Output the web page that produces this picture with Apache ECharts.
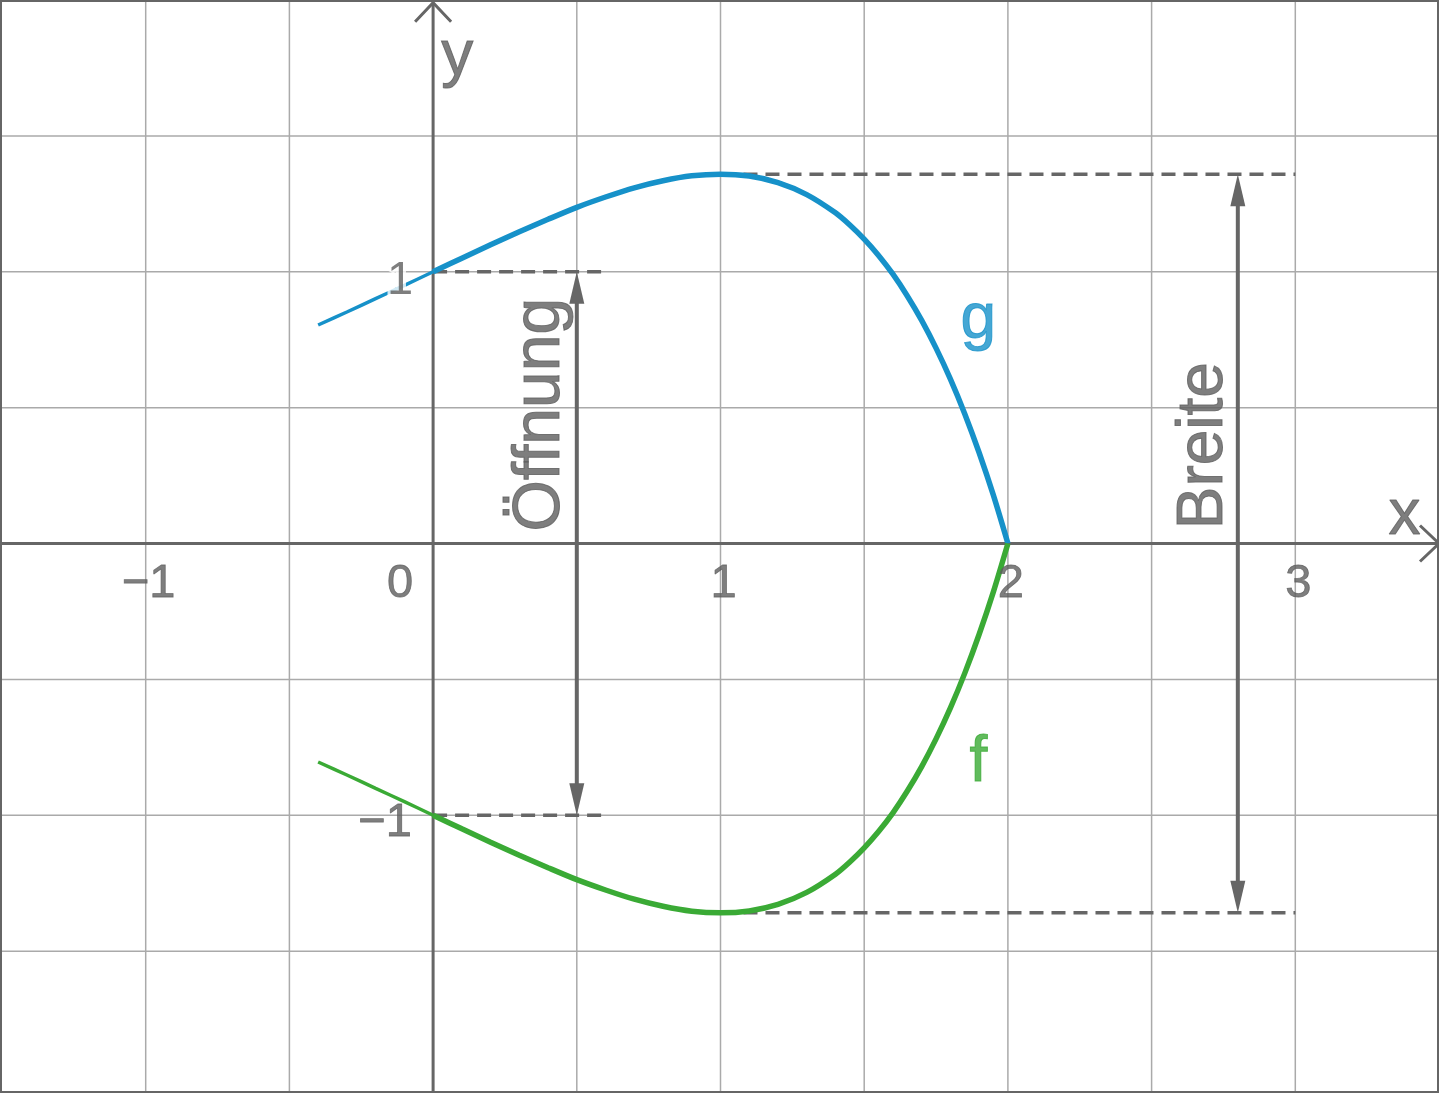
<!DOCTYPE html>
<html><head><meta charset="utf-8">
<script src="https://cdn.jsdelivr.net/npm/echarts@6/dist/echarts.min.js"></script>
<style>html,body{margin:0;padding:0;background:#fff}#c{width:1439px;height:1093px}</style>
</head><body><div id="c"></div>
<script>
// ---- data ----
const leftX   = [-0.4, -0.3, -0.2, -0.1, 0];
const gLeftY  = [0.804, 0.852, 0.901, 0.950, 1.000];
const fLeftY  = [-0.804, -0.852, -0.901, -0.950, -1.000];
const mainX   = [0, 0.1, 0.2, 0.3, 0.4, 0.5, 0.6, 0.7, 0.8, 0.9, 1.0, 1.1, 1.2, 1.3, 1.4, 1.45, 1.5, 1.55, 1.6, 1.65, 1.7, 1.75, 1.8, 1.85, 1.9, 1.95, 2.0];
const gMainY  = [1.000, 1.050, 1.099, 1.147, 1.193, 1.237, 1.275, 1.309, 1.335, 1.353, 1.359, 1.352, 1.328, 1.284, 1.217, 1.172, 1.120, 1.060, 0.991, 0.911, 0.821, 0.719, 0.605, 0.477, 0.334, 0.176, 0];
const fMainY  = [-1.000, -1.050, -1.099, -1.147, -1.193, -1.237, -1.275, -1.309, -1.335, -1.353, -1.359, -1.352, -1.328, -1.284, -1.217, -1.172, -1.120, -1.060, -0.991, -0.911, -0.821, -0.719, -0.605, -0.477, -0.334, -0.176, 0];
const xTicks     = [-1, 0, 1, 2, 3];
const xTickText  = ['−1', '0', '1', '2', '3'];
const yTickUpper = [1];
const yTickLower = [-1];
const xGridLines = [-1, -0.5, 0.5, 1, 1.5, 2, 2.5, 3];
const yGridLines = [-1.5, -1, -0.5, 0.5, 1, 1.5];
const dashOpenTop = [[0, 1], [0.6, 1]];
const dashOpenBot = [[0, -1], [0.6, -1]];
const dashWideTop = [[1.08, 1.359], [3.0, 1.359]];
const dashWideBot = [[1.08, -1.359], [3.0, -1.359]];
const arrowOpening = [0.5, 1, -1];        // x, y from, y to
const arrowWidth   = [2.8, 1.359, -1.359];
const xAxisLine = [[-1.5, 0], [3.5, 0]];
const yAxisLine = [[0, -2.05], [0, 1.99]];
const textOpening = ['Öffnung', 0.376, 0.474];
const textWidth   = ['Breite', 2.683, 0.36];
const textG = ['g', 1.897, 0.82];
const textF = ['f', 1.897, -0.81];
const textX = ['x', 3.38, 0.10];
const textY = ['y', 0.084, 1.79];

// ---- styles ----
const GRAY = '#666666';
const TXT = '#5e5e5e';
const BLUE = '#1691c9';
const GREEN = '#3aaa35';
const FONT = 'Liberation Sans, Arial, sans-serif';

const pairs = (xs, ys) => xs.map((x, i) => [x, ys[i]]);

function lineSeries(data, color, width, z, dashed) {
  return {
    type: 'line', data: data, showSymbol: false, symbol: 'none', smooth: 0.3,
    lineStyle: { color: color, width: width, type: dashed ? [14, 8] : 'solid', cap: 'butt' },
    z: z, silent: true, animation: false, clip: false
  };
}
function straight(data, color, width, z, dashed) {
  const s = lineSeries(data, color, width, z, dashed);
  s.smooth = false;
  return s;
}

const hGridSeries = {
  type: 'custom', z: 1, silent: true, animation: false, clip: false,
  data: yGridLines.map(v => [v]),
  renderItem: function (params, api) {
    const y = api.coord([0, api.value(0)])[1];
    const cs = params.coordSys;
    return { type: 'line', shape: { x1: cs.x, y1: y, x2: cs.x + cs.width, y2: y },
      style: { stroke: '#aaaaaa', lineWidth: 1.5 } };
  }
};
const vGridSeries = {
  type: 'custom', z: 1, silent: true, animation: false, clip: false,
  data: xGridLines.map(v => [v]),
  renderItem: function (params, api) {
    const x = api.coord([api.value(0), 0])[0];
    return { type: 'line', shape: { x1: x, y1: 0, x2: x, y2: 1093 },
      style: { stroke: '#aaaaaa', lineWidth: 1.5 } };
  }
};

function doubleArrow(spec) {
  return {
    type: 'custom', z: 6, silent: true, animation: false, clip: false,
    data: [spec],
    renderItem: function (params, api) {
      const p1 = api.coord([api.value(0), api.value(1)]);
      const p2 = api.coord([api.value(0), api.value(2)]);
      const L = 32, W = 7.5;
      const x = p1[0];
      return {
        type: 'group', children: [
          { type: 'line', shape: { x1: x, y1: p1[1] + L - 2, x2: x, y2: p2[1] - L + 2 },
            style: { stroke: GRAY, lineWidth: 4 } },
          { type: 'polygon', shape: { points: [[x, p1[1]], [x - W, p1[1] + L], [x + W, p1[1] + L]] },
            style: { fill: GRAY } },
          { type: 'polygon', shape: { points: [[x, p2[1]], [x - W, p2[1] - L], [x + W, p2[1] - L]] },
            style: { fill: GRAY } }
        ]
      };
    }
  };
}

function chevron(tip, dir) {
  return {
    type: 'custom', z: 6, silent: true, animation: false, clip: false,
    data: [tip],
    renderItem: function (params, api) {
      const p = api.coord([api.value(0), api.value(1)]);
      let a, b;
      if (dir === 'right') { a = [p[0] - 19, p[1] - 18]; b = [p[0] - 19, p[1] + 18]; }
      else { a = [p[0] - 18, p[1] + 19]; b = [p[0] + 18, p[1] + 19]; }
      return { type: 'polyline', shape: { points: [a, p, b] },
        style: { stroke: GRAY, lineWidth: 3, fill: null } };
    }
  };
}

function textSeries(spec, color, size, rotate, z) {
  return {
    type: 'scatter', symbolSize: 0, z: z || 7, silent: true, animation: false, clip: false,
    data: [{ value: [spec[1], spec[2]], name: spec[0] }],
    label: { show: true, position: 'inside', formatter: '{b}', color: color, fontSize: size,
      fontFamily: FONT, rotate: rotate || 0, align: 'center', verticalAlign: 'middle',
      textBorderColor: color, textBorderWidth: 1 }
  };
}

const xTickSeries = {
  type: 'scatter', symbolSize: 0, z: 7, silent: true, animation: false, clip: false,
  data: xTicks.map((v, i) => ({ value: [v, 0], name: xTickText[i],
    label: { offset: v === 0 ? [-33, 41] : [3, 41] } })),
  label: { show: true, position: 'inside', formatter: '{b}', color: TXT, fontSize: 47,
    fontFamily: FONT, align: 'center', verticalAlign: 'middle',
    textBorderColor: TXT, textBorderWidth: 0.8 }
};
const yTickUpperSeries = {
  type: 'scatter', symbolSize: 0, z: 8, silent: true, animation: false, clip: false,
  data: yTickUpper.map(v => ({ value: [0, v], name: String(v) })),
  label: { show: true, position: 'inside', formatter: '{b}', color: TXT, fontSize: 47,
    fontFamily: FONT, align: 'center', verticalAlign: 'middle', offset: [-33, 9],
    textBorderColor: '#fff', textBorderWidth: 6 }
};
const yTickLowerSeries = {
  type: 'scatter', symbolSize: 0, z: 1, silent: true, animation: false, clip: false,
  data: yTickLower.map(v => ({ value: [0, v], name: '−' + Math.abs(v) })),
  label: { show: true, position: 'inside', formatter: '{b}', color: TXT, fontSize: 47,
    fontFamily: FONT, align: 'center', verticalAlign: 'middle', offset: [-48, 8],
    textBorderColor: TXT, textBorderWidth: 0.8 }
};

const chart = echarts.init(document.getElementById('c'), null, { renderer: 'canvas' });
chart.setOption({
  backgroundColor: '#fff',
  animation: false,
  grid: { left: 2, right: 0, top: 0, bottom: 6, show: false },
  xAxis: { type: 'value', min: -1.5, max: 3.5, interval: 0.5,
    axisLine: { show: false }, axisTick: { show: false }, axisLabel: { show: false },
    splitLine: { show: false } },
  yAxis: { type: 'value', min: -2, max: 2, interval: 0.5,
    axisLine: { show: false }, axisTick: { show: false }, axisLabel: { show: false },
    splitLine: { show: false } },
  graphic: [{ type: 'rect', z: 100, silent: true,
    shape: { x: 1, y: 1, width: 1437, height: 1091 },
    style: { stroke: GRAY, lineWidth: 2, fill: null } }],
  series: [
    hGridSeries,
    vGridSeries,
    straight(xAxisLine, GRAY, 3, 3),
    straight(yAxisLine, GRAY, 3, 3),
    chevron([3.5, 0], 'right'),
    chevron(yAxisLine[1], 'up'),
    straight(dashOpenTop, GRAY, 3.5, 3, true),
    straight(dashOpenBot, GRAY, 3.5, 3, true),
    straight(dashWideTop, GRAY, 3.5, 3, true),
    straight(dashWideBot, GRAY, 3.5, 3, true),
    yTickLowerSeries,
    lineSeries(pairs(leftX, gLeftY), BLUE, 3.5, 4),
    lineSeries(pairs(mainX, gMainY), BLUE, 5.5, 4),
    lineSeries(pairs(leftX, fLeftY), GREEN, 3.5, 4),
    lineSeries(pairs(mainX, fMainY), GREEN, 5.5, 4),
    doubleArrow(arrowOpening),
    doubleArrow(arrowWidth),
    xTickSeries,
    yTickUpperSeries,
    textSeries(textOpening, TXT, 66, 90),
    textSeries(textWidth, TXT, 64, 90),
    textSeries(textG, BLUE, 64),
    textSeries(textF, GREEN, 64),
    textSeries(textX, TXT, 64),
    textSeries(textY, TXT, 64)
  ]
});
</script></body></html>
